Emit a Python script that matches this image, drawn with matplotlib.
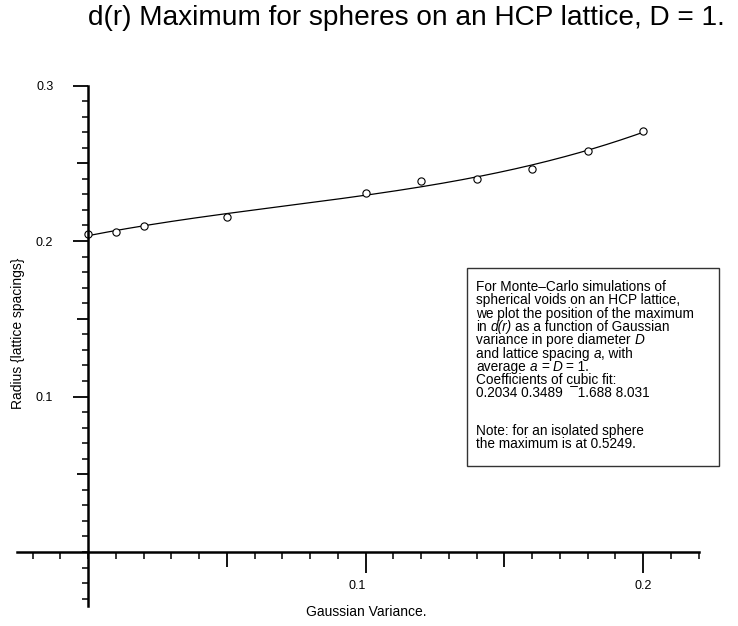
import numpy as np
import matplotlib
matplotlib.use('Agg')
import matplotlib.pyplot as plt
from matplotlib.patches import Rectangle
from matplotlib.transforms import ScaledTranslation

plt.rcParams['font.family'] = 'Liberation Sans'

# ── data ────────────────────────────────────────────────────────────────────
variance = [0.0, 0.01, 0.02, 0.05, 0.10, 0.12, 0.14, 0.16, 0.18, 0.20]
radius = [0.2044, 0.2061, 0.2095, 0.2153, 0.2310, 0.2384, 0.2399, 0.2466, 0.2576, 0.2710]
fit_coeffs = [0.2034, 0.3489, -1.688, 8.031]   # cubic fit, low -> high order

title = 'd(r) Maximum for spheres on an HCP lattice, D = 1.'
# note box: each line is a list of (text, italic); a leading space means a word gap
note_lines = [
    [('For Monte\u2013Carlo simulations of', False)],
    [('spherical voids on an HCP lattice,', False)],
    [('we plot the position of the maximum', False)],
    [('in', False), (' d(r)', True), (' as a function of Gaussian', False)],
    [('variance in pore diameter', False), (' D', True)],
    [('and lattice spacing', False), (' a', True), (', with', False)],
    [('average', False), (' a', True), (' =', False), (' D', True), (' = 1.', False)],
    [('Coefficients of cubic fit:', False)],
    [('0.2034 0.3489  \u00af1.688 8.031', False)],
    [],
    [('Note: for an isolated sphere', False)],
    [('the maximum is at 0.5249.', False)],
]

# ── figure: axes fill the canvas, origin placed by pixel mapping ────────────
W, H = 738, 626
fig = plt.figure(figsize=(W / 100, H / 100), dpi=100)
ax = fig.add_axes([0, 0, 1, 1])
x0_px, y0_px = 88, 74          # pixel position of the data origin (from bottom)
x_scale, y_scale = 2775, 1555  # pixels per data unit
ax.set_xlim(-x0_px / x_scale, (W - x0_px) / x_scale)
ax.set_ylim(-y0_px / y_scale, (H - y0_px) / y_scale)
ax.patch.set_visible(False)

# fitted cubic and the simulation points
xs = np.linspace(0, max(variance), 200)
ax.plot(xs, np.polyval(fit_coeffs[::-1], xs), color='black', lw=0.9)
ax.plot(variance, radius, 'o', mfc='white', mec='black', ms=5.2, mew=0.8)

# axes crossing at the origin
for side in ('top', 'right'):
    ax.spines[side].set_visible(False)
ax.spines['left'].set_position(('data', 0))
ax.spines['bottom'].set_position(('data', 0))
ax.spines['left'].set_bounds(-0.035, 0.3)
ax.spines['bottom'].set_bounds(-0.0255, 0.22)
ax.spines['left'].set_linewidth(1.8)
ax.spines['bottom'].set_linewidth(1.8)

xlabels = ['', '0.1', '', '0.2']
ylabels = ['', '0.1', '', '0.2', '', '0.3']
ax.set_xticks([0.05, 0.1, 0.15, 0.2])
ax.set_xticklabels(xlabels)
ax.set_xticks(np.arange(-0.02, 0.2201, 0.01), minor=True)
ax.set_yticks([0.05, 0.1, 0.15, 0.2, 0.25, 0.3])
ax.set_yticklabels(ylabels)
ax.set_yticks(np.arange(-0.03, 0.3001, 0.01), minor=True)

ax.tick_params(axis='x', which='major', direction='out', length=15, width=1.3,
               labelsize=9, pad=5)
ax.tick_params(axis='x', which='minor', direction='out', length=5, width=1.1)
ax.tick_params(axis='y', which='major', direction='out', length=11, width=1.3,
               labelsize=9, pad=14)
ax.tick_params(axis='y', which='minor', direction='out', length=4.5, width=1.1)

# medium ticks at the unlabelled half steps
for tick, lab in zip(ax.xaxis.get_major_ticks(), xlabels):
    if not lab:
        tick.tick1line.set_markersize(10.5)
for tick, lab in zip(ax.yaxis.get_major_ticks(), ylabels):
    if not lab:
        tick.tick1line.set_markersize(8)
# the "0.1" label sits a little left of its tick in the original
lab01 = ax.xaxis.get_major_ticks()[1].label1
lab01.set_transform(lab01.get_transform() + ScaledTranslation(-0.08, 0, fig.dpi_scale_trans))

# ── texts ───────────────────────────────────────────────────────────────────
fig.text(88 / W, 1 - 25 / H, title, fontsize=20.2, ha='left', va='baseline')
fig.text(366 / W, 1 - 612 / H, 'Gaussian Variance.', fontsize=10,
         ha='center', va='center')
fig.text(18 / W, 1 - 333 / H, 'Radius {lattice spacings}', fontsize=10,
         rotation=90, ha='center', va='center')

fig.patches.append(Rectangle((467 / W, 1 - 466 / H), (719 - 467) / W, (466 - 268) / H,
                             transform=fig.transFigure, fill=False,
                             edgecolor='#333333', lw=1.0))

note_fs = 9.8
space_pt = 0.278 * note_fs      # width of a word space
baseline = 291.0
for parts in note_lines:
    if not parts:
        baseline += 24.0
        continue
    prev = None
    for txt, italic in parts:
        gap = space_pt if txt.startswith(' ') else 0
        style = 'italic' if italic else 'normal'
        if prev is None:
            prev = fig.text(476 / W, 1 - baseline / H, txt, fontsize=note_fs,
                            style=style, ha='left', va='baseline')
        else:
            prev = ax.annotate(txt.lstrip(), xy=(1, 0), xycoords=prev,
                               xytext=(gap, 0), textcoords='offset points',
                               fontsize=note_fs, style=style,
                               ha='left', va='bottom')
    baseline += 13.3

fig.savefig('out.png', dpi=100)
